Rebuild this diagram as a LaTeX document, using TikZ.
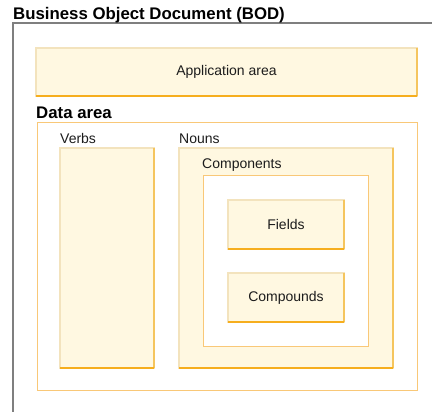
\documentclass[tikz,border=0pt]{standalone}
\usepackage{fontspec}
\setmainfont{Liberation Sans}
\definecolor{boxfill}{HTML}{FFF8E1}
\definecolor{boxedge}{HTML}{F3E3BD}
\definecolor{shadowr}{HTML}{F5C55E}
\definecolor{shadowb}{HTML}{F6AE1E}
\definecolor{areaedge}{HTML}{F9C878}
\definecolor{framegray}{HTML}{7F7F7F}
\definecolor{txt}{HTML}{1C1C1C}
\begin{document}
\begin{tikzpicture}[x=1pt,y=-1pt,
  box/.style={draw=boxedge, fill=boxfill, line width=2pt, inner sep=0pt, outer sep=0pt, anchor=north west},
  area/.style={draw=areaedge, line width=1pt, inner sep=0pt, outer sep=0pt, anchor=north west},
  shr/.style={draw=shadowr, line width=2pt},
  shb/.style={draw=shadowb, line width=2.5pt},
  lbl/.style={font=\fontsize{14}{16}\selectfont, text=txt, inner sep=0pt, anchor=base west},
  ctext/.style={font=\fontsize{14}{16}\selectfont, text=txt, inner sep=0pt},
  ttl/.style={font=\fontsize{16.8}{19}\selectfont\bfseries, text=black, inner sep=0pt, anchor=base west}]
\useasboundingbox (0,0) rectangle (432,412);
% outer frame
\coordinate (fbl) at (13,412);
\coordinate (ftl) at (13,23);
\coordinate (ftr) at (432,23);
\draw[framegray, line width=1.5pt] (fbl) -- (ftl) -- (ftr);
\node[ttl] (title) at (13,20) {Business Object Document (BOD)};
% application area
\node[box, minimum width=381pt, minimum height=48pt] (app) at (36,48) {};
\draw[shr] (app.north east) -- (app.south east);
\draw[shb] (app.south west) -- (app.south east);
\node[ctext] (apptext) at (app.center) {Application area};
% data area
\node[ttl] (datatitle) at (36,119) {Data area};
\node[area, minimum width=380pt, minimum height=267pt] (data) at (37,123) {};
% verbs
\node[lbl] (verbslbl) at (60,144) {Verbs};
\node[box, minimum width=94pt, minimum height=220pt] (verbs) at (60,148) {};
\draw[shr] (verbs.north east) -- (verbs.south east);
\draw[shb] (verbs.south west) -- (verbs.south east);
% nouns
\node[lbl] (nounslbl) at (179,144) {Nouns};
\node[box, minimum width=214pt, minimum height=220pt] (nouns) at (179,148) {};
\draw[shr] (nouns.north east) -- (nouns.south east);
\draw[shb] (nouns.south west) -- (nouns.south east);
% components
\node[lbl] (complbl) at (202,169) {Components};
\node[area, fill=white, minimum width=165pt, minimum height=170pt] (comp) at (203,176) {};
% fields
\node[box, minimum width=116pt, minimum height=49pt] (fields) at (228,200) {};
\draw[shr] (fields.north east) -- (fields.south east);
\draw[shb] (fields.south west) -- (fields.south east);
\node[ctext] (fieldstext) at (fields.center) {Fields};
% compounds
\node[box, minimum width=116pt, minimum height=49pt] (compounds) at (228,273) {};
\draw[shr] (compounds.north east) -- (compounds.south east);
\draw[shb] (compounds.south west) -- (compounds.south east);
\node[ctext] (compoundstext) at (compounds.center) {Compounds};
\end{tikzpicture}
\end{document}
